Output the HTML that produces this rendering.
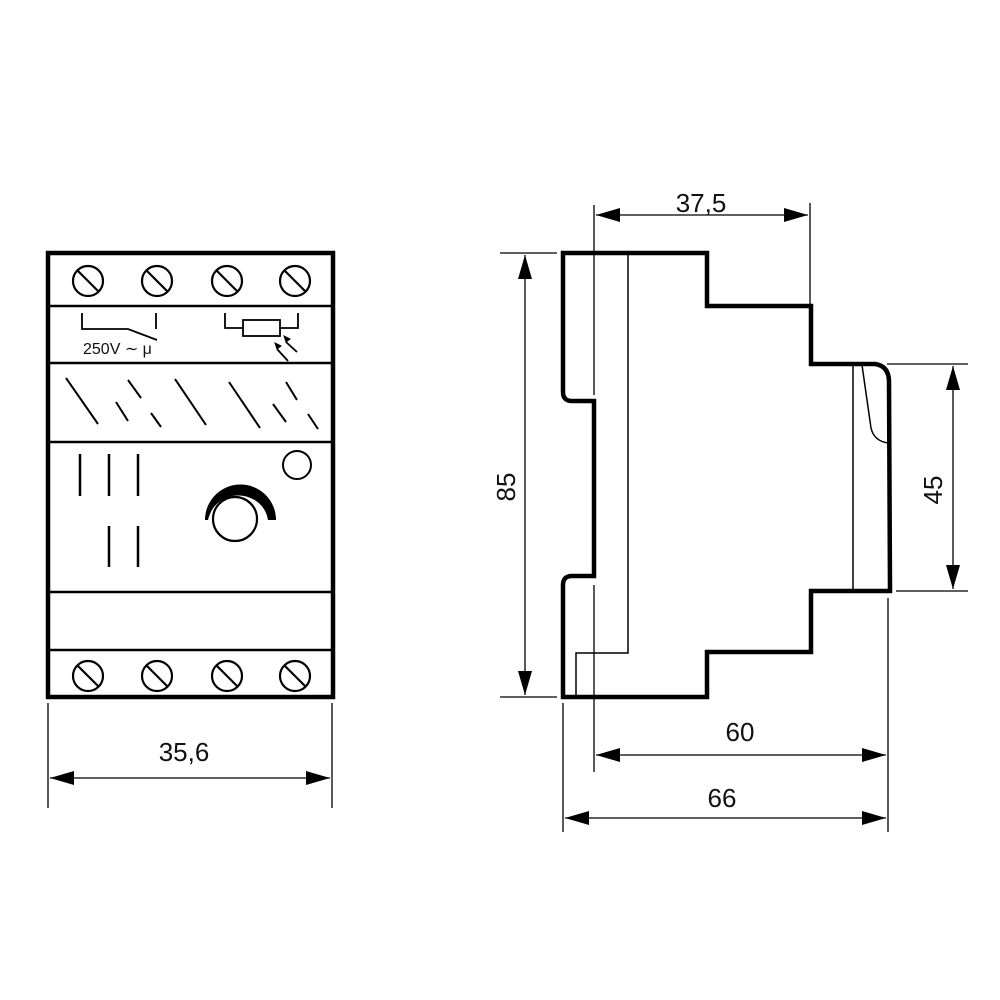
<!DOCTYPE html>
<html><head><meta charset="utf-8"><style>
html,body{margin:0;padding:0;background:#fff}
svg{display:block}
text{font-family:"Liberation Sans",sans-serif;fill:#111}
</style></head><body>
<svg width="1000" height="1000" viewBox="0 0 1000 1000" xmlns="http://www.w3.org/2000/svg">
<defs>
<marker id="a" viewBox="0 0 24 14" refX="24" refY="7" markerWidth="24" markerHeight="14" markerUnits="userSpaceOnUse" orient="auto-start-reverse">
<path d="M0,0 L24,7 L0,14 Z" fill="#000"/>
</marker>
</defs>
<g fill="none" stroke="#000">
<rect x="48" y="253" width="285" height="444" stroke-width="4.5"/>
<g stroke-width="2.5">
<line x1="48" y1="306" x2="333" y2="306"/>
<line x1="48" y1="363" x2="333" y2="363"/>
<line x1="48" y1="442" x2="333" y2="442"/>
<line x1="48" y1="592" x2="333" y2="592"/>
<line x1="48" y1="650" x2="333" y2="650"/>
</g>
<g stroke-width="2.2">
<circle cx="88" cy="281" r="15"/><line x1="78" y1="271" x2="98" y2="291"/>
<circle cx="157" cy="281" r="15"/><line x1="147" y1="271" x2="167" y2="291"/>
<circle cx="227" cy="281" r="15"/><line x1="217" y1="271" x2="237" y2="291"/>
<circle cx="295" cy="281" r="15"/><line x1="285" y1="271" x2="305" y2="291"/>
<circle cx="88" cy="676" r="15"/><line x1="78" y1="666" x2="98" y2="686"/>
<circle cx="157" cy="676" r="15"/><line x1="147" y1="666" x2="167" y2="686"/>
<circle cx="227" cy="676" r="15"/><line x1="217" y1="666" x2="237" y2="686"/>
<circle cx="295" cy="676" r="15"/><line x1="285" y1="666" x2="305" y2="686"/>
</g>
<g stroke-width="1.8">
<polyline points="82,313 82,329 128,329 157,340"/>
<line x1="156" y1="313" x2="156" y2="329"/>
<polyline points="225,313 225,328 243,328"/>
<rect x="243" y="320" width="37" height="16"/>
<polyline points="280,328 298,328 298,313"/>
<line x1="288" y1="361" x2="277" y2="349"/>
<line x1="297" y1="352" x2="286" y2="342"/>
</g>
<path d="M277,349 l-2,-6 l6,3 z M286,342 l-2,-6 l6,3 z" fill="#000" stroke-width="1"/>
<g stroke-width="2">
<line x1="66" y1="378" x2="98" y2="424"/>
<line x1="128" y1="380" x2="141" y2="398"/>
<line x1="116" y1="402" x2="128" y2="421"/>
<line x1="151" y1="413" x2="161" y2="427"/>
<line x1="175" y1="379" x2="206" y2="425"/>
<line x1="229" y1="382" x2="260" y2="428"/>
<line x1="286" y1="382" x2="297" y2="400"/>
<line x1="273" y1="404" x2="286" y2="422"/>
<line x1="308" y1="414" x2="318" y2="429"/>
</g>
<g stroke-width="2.5">
<line x1="80" y1="454" x2="80" y2="496"/>
<line x1="109" y1="454" x2="109" y2="496"/>
<line x1="138" y1="454" x2="138" y2="496"/>
<line x1="109" y1="526" x2="109" y2="567"/>
<line x1="138" y1="526" x2="138" y2="567"/>
</g>
<circle cx="297" cy="465" r="14" stroke-width="2"/>
<circle cx="235" cy="519" r="22" stroke-width="2.2"/>
<path d="M206,520 A33,33 0 0 1 275,520" stroke-width="1.5"/>
</g>
<path d="M205,520 A34,34 0 0 1 276,520 L268,520 A30,28 0 0 0 210,514 A30,30 0 0 0 208,520 Z" fill="#000"/>
<g stroke="#000" stroke-width="1.3" fill="none">
<line x1="48" y1="703" x2="48" y2="808"/>
<line x1="332" y1="703" x2="332" y2="808"/>
<line x1="50" y1="778" x2="330" y2="778" marker-start="url(#a)" marker-end="url(#a)"/>
</g>
<text x="184" y="761" font-size="26" text-anchor="middle">35,6</text>

<g fill="none" stroke="#000">
<path d="M563,253 L707,253 L707,306 L811,306 L811,364 L875,364 Q889,366 889,382 L890,591 L811,591 L811,652 L707,652 L707,697 L563,697 L563,585 Q563,576 572,576 L594,576 L594,401 L572,401 Q563,401 563,392 Z" stroke-width="4.5" stroke-linejoin="miter"/>
<g stroke-width="1.5">
<polyline points="628,253 628,653 576,653 576,697"/>
<line x1="853" y1="365" x2="853" y2="591"/>
<path d="M862,365 L871,428 Q874,441 888,443"/>
</g>
<g stroke-width="1.3">
<line x1="594" y1="205" x2="594" y2="395"/>
<line x1="594" y1="585" x2="594" y2="772"/>
<line x1="810" y1="203" x2="810" y2="304"/>
<line x1="500" y1="253" x2="557" y2="253"/>
<line x1="500" y1="697" x2="557" y2="697"/>
<line x1="887" y1="364" x2="968" y2="364"/>
<line x1="896" y1="591" x2="968" y2="591"/>
<line x1="563" y1="703" x2="563" y2="832"/>
<line x1="888" y1="598" x2="888" y2="832"/>
<line x1="596" y1="215" x2="808" y2="215" marker-start="url(#a)" marker-end="url(#a)"/>
<line x1="525" y1="255" x2="525" y2="695" marker-start="url(#a)" marker-end="url(#a)"/>
<line x1="953" y1="366" x2="953" y2="589" marker-start="url(#a)" marker-end="url(#a)"/>
<line x1="596" y1="755" x2="886" y2="755" marker-start="url(#a)" marker-end="url(#a)"/>
<line x1="565" y1="818" x2="886" y2="818" marker-start="url(#a)" marker-end="url(#a)"/>
</g>
</g>
<text x="701" y="212" font-size="26" text-anchor="middle">37,5</text>
<text x="740" y="741" font-size="26" text-anchor="middle">60</text>
<text x="722" y="807" font-size="26" text-anchor="middle">66</text>
<text transform="translate(515,487) rotate(-90)" font-size="26" text-anchor="middle">85</text>
<text transform="translate(942,490) rotate(-90)" font-size="26" text-anchor="middle">45</text>
<text x="83" y="354" font-size="16">250V ∼ μ</text>
</svg>
</body></html>
